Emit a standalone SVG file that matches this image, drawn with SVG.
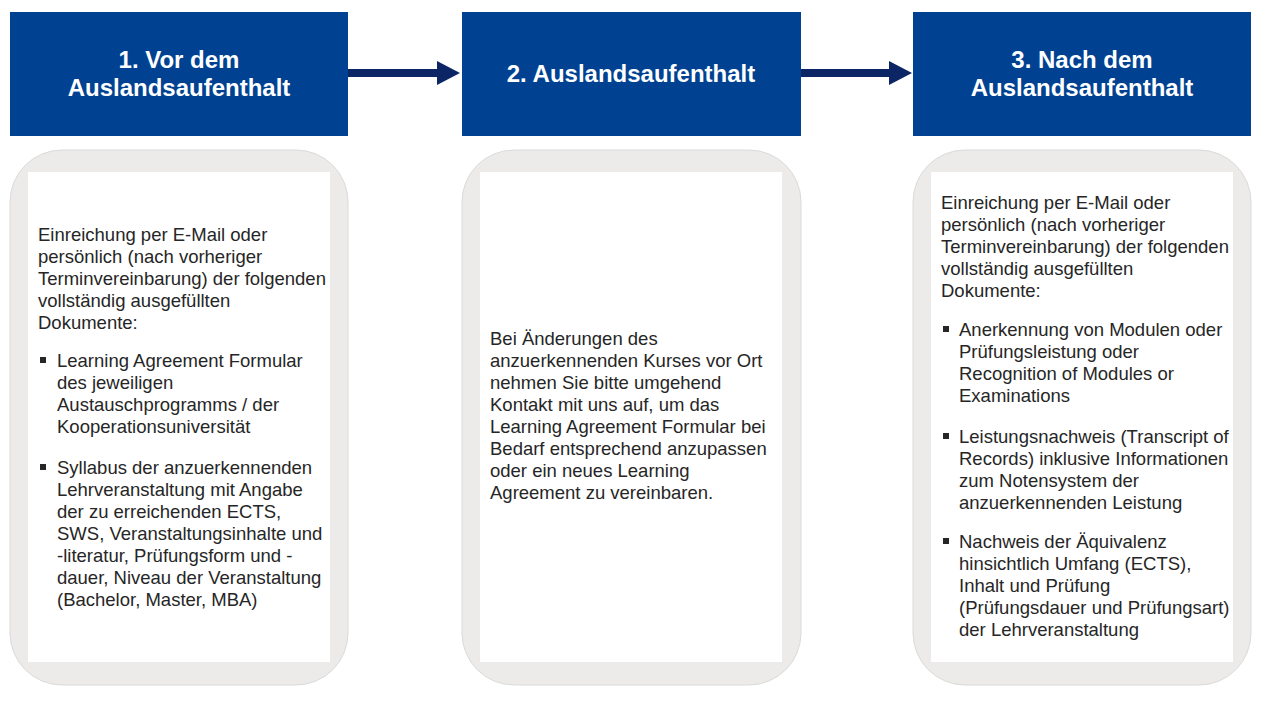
<svg xmlns="http://www.w3.org/2000/svg" width="1280" height="720" viewBox="0 0 1280 720">
<defs>
<style>
.hdr{fill:#004291;}
.ht{fill:#ffffff;font-family:"Liberation Sans",Arial,sans-serif;font-weight:bold;font-size:24px;text-anchor:middle;}
.panel{fill:#ECEBE9;stroke:#DADADA;stroke-width:1;}
.inner{fill:#ffffff;}
.t{fill:#262626;font-family:"Liberation Sans",Arial,sans-serif;font-size:18.5px;}
.b{fill:#262626;}
.conn{stroke:#0B2565;stroke-width:8;fill:none;}
</style>
<marker id="ah" markerWidth="24" markerHeight="24" viewBox="0 0 24 24" refX="0" refY="12" markerUnits="userSpaceOnUse" orient="auto">
<path d="M0,0 L23,12 L0,24 Z" fill="#0B2565"/>
</marker>
</defs>
<rect width="1280" height="720" fill="#ffffff"/>

<g id="connectors">
<line class="conn" x1="348" y1="73" x2="437" y2="73" marker-end="url(#ah)"/>
<line class="conn" x1="801" y1="73" x2="889" y2="73" marker-end="url(#ah)"/>
</g>

<g id="header1">
<rect class="hdr" x="10" y="12" width="338" height="124"/>
<text class="ht" x="179" y="68">1. Vor dem</text>
<text class="ht" x="179" y="96">Auslandsaufenthalt</text>
</g>
<g id="header2">
<rect class="hdr" x="462" y="12" width="339" height="124"/>
<text class="ht" x="631" y="82">2. Auslandsaufenthalt</text>
</g>
<g id="header3">
<rect class="hdr" x="913" y="12" width="338" height="124"/>
<text class="ht" x="1082" y="68">3. Nach dem</text>
<text class="ht" x="1082" y="96">Auslandsaufenthalt</text>
</g>

<g id="panel1">
<rect class="panel" x="10" y="150" width="338" height="535" rx="52" ry="52"/>
<rect class="inner" x="28" y="172" width="302" height="490"/>
<text class="t" x="38" y="241">Einreichung per E-Mail oder</text>
<text class="t" x="38" y="263">persönlich (nach vorheriger</text>
<text class="t" x="38" y="285">Terminvereinbarung) der folgenden</text>
<text class="t" x="38" y="307">vollständig ausgefüllten</text>
<text class="t" x="38" y="329">Dokumente:</text>
<rect class="b" x="40" y="357" width="6" height="6"/>
<text class="t" x="57" y="367">Learning Agreement Formular</text>
<text class="t" x="57" y="389">des jeweiligen</text>
<text class="t" x="57" y="411">Austauschprogramms / der</text>
<text class="t" x="57" y="433">Kooperationsuniversität</text>
<rect class="b" x="40" y="464" width="6" height="6"/>
<text class="t" x="57" y="474">Syllabus der anzuerkennenden</text>
<text class="t" x="57" y="496">Lehrveranstaltung mit Angabe</text>
<text class="t" x="57" y="518">der zu erreichenden ECTS,</text>
<text class="t" x="57" y="540">SWS, Veranstaltungsinhalte und</text>
<text class="t" x="57" y="562">-literatur,  Prüfungsform und -</text>
<text class="t" x="57" y="584">dauer, Niveau der Veranstaltung</text>
<text class="t" x="57" y="606">(Bachelor, Master, MBA)</text>
</g>

<g id="panel2">
<rect class="panel" x="462" y="150" width="339" height="535" rx="52" ry="52"/>
<rect class="inner" x="480" y="172" width="302" height="490"/>
<text class="t" x="490" y="345">Bei Änderungen des</text>
<text class="t" x="490" y="367">anzuerkennenden Kurses vor Ort</text>
<text class="t" x="490" y="389">nehmen Sie bitte umgehend</text>
<text class="t" x="490" y="411">Kontakt mit uns auf,  um das</text>
<text class="t" x="490" y="433">Learning Agreement Formular bei</text>
<text class="t" x="490" y="455">Bedarf entsprechend anzupassen</text>
<text class="t" x="490" y="477">oder ein neues Learning</text>
<text class="t" x="490" y="499">Agreement zu vereinbaren.</text>
</g>

<g id="panel3">
<rect class="panel" x="913" y="150" width="338" height="535" rx="52" ry="52"/>
<rect class="inner" x="931" y="172" width="302" height="490"/>
<text class="t" x="941" y="209">Einreichung per E-Mail oder</text>
<text class="t" x="941" y="231">persönlich (nach vorheriger</text>
<text class="t" x="941" y="253">Terminvereinbarung) der folgenden</text>
<text class="t" x="941" y="275">vollständig ausgefüllten</text>
<text class="t" x="941" y="297">Dokumente:</text>
<rect class="b" x="943" y="326" width="6" height="6"/>
<text class="t" x="959" y="336">Anerkennung von Modulen oder</text>
<text class="t" x="959" y="358">Prüfungsleistung oder</text>
<text class="t" x="959" y="380">Recognition of Modules or</text>
<text class="t" x="959" y="402">Examinations</text>
<rect class="b" x="943" y="433" width="6" height="6"/>
<text class="t" x="959" y="443">Leistungsnachweis (Transcript of</text>
<text class="t" x="959" y="465">Records) inklusive Informationen</text>
<text class="t" x="959" y="487">zum Notensystem der</text>
<text class="t" x="959" y="509">anzuerkennenden Leistung</text>
<rect class="b" x="943" y="538" width="6" height="6"/>
<text class="t" x="959" y="548">Nachweis der Äquivalenz</text>
<text class="t" x="959" y="570">hinsichtlich Umfang (ECTS),</text>
<text class="t" x="959" y="592">Inhalt und Prüfung</text>
<text class="t" x="959" y="614">(Prüfungsdauer und Prüfungsart)</text>
<text class="t" x="959" y="636">der Lehrveranstaltung</text>
</g>
</svg>
